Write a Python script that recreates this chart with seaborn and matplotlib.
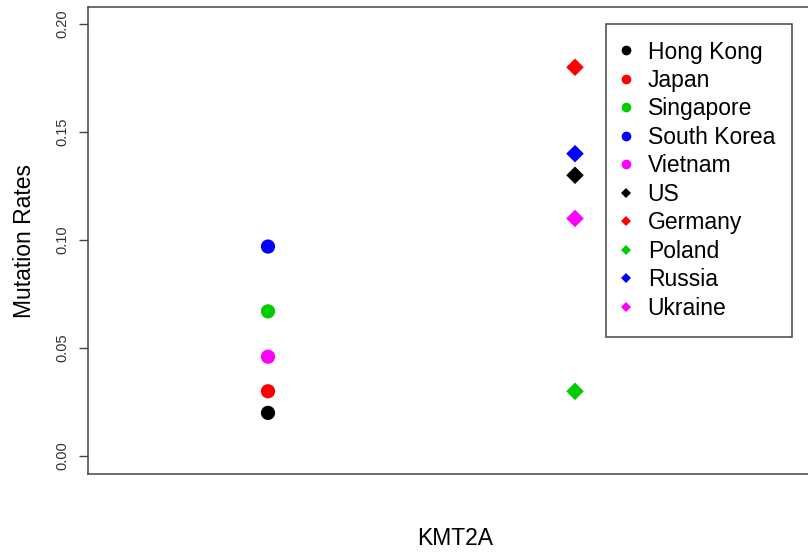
import matplotlib
matplotlib.use("Agg")
import matplotlib.pyplot as plt
from matplotlib.lines import Line2D
import seaborn as sns
import pandas as pd

# Mutation rates of KMT2A by country
asia_countries = ["Hong Kong", "Japan", "Singapore", "South Korea", "Vietnam"]
asia_rates = [0.020, 0.030, 0.067, 0.097, 0.046]
west_countries = ["US", "Germany", "Poland", "Russia", "Ukraine"]
west_rates = [0.130, 0.180, 0.030, 0.140, 0.110]
group_positions = [1, 2]
colours = ["#000000", "#FF0000", "#00CD00", "#0000FF", "#FF00FF"]
y_ticks = [0.00, 0.05, 0.10, 0.15, 0.20]
y_tick_labels = ["0.00", "0.05", "0.10", "0.15", "0.20"]

sns.set_style("white")
plt.rcParams["font.family"] = ["Liberation Sans", "DejaVu Sans"]
plt.rcParams["text.color"] = "black"
plt.rcParams["axes.labelcolor"] = "black"

asia = pd.DataFrame({"country": asia_countries, "rate": asia_rates,
                     "pos": group_positions[0]})
west = pd.DataFrame({"country": west_countries, "rate": west_rates,
                     "pos": group_positions[1]})

W, H = 808, 557
fig = plt.figure(figsize=(W / 100, H / 100), dpi=100)
ax = fig.add_axes([88 / W, 1 - 474 / H, (822 - 88) / W, (474 - 7) / H])

sns.scatterplot(data=asia, x="pos", y="rate", hue="country",
                palette=dict(zip(asia_countries, colours)), marker="o",
                s=105, linewidth=0, legend=False, ax=ax, zorder=3)
sns.scatterplot(data=west, x="pos", y="rate", hue="country",
                palette=dict(zip(west_countries, colours)), marker="D",
                s=80, linewidth=0, legend=False, ax=ax, zorder=3)

ax.set_xlim(1 - 180 / 307, 2 + 247 / 307)
ax.set_ylim(-0.0083, 0.2079)
ax.set_xticks([])
ax.set_yticks(y_ticks)
ax.set_yticklabels(y_tick_labels, rotation=90, va="center", fontsize=10.5,
                   color="#333333")
ax.tick_params(axis="y", direction="out", length=6.5, width=1,
               color="#444444", pad=7, left=True)
for sp in ax.spines.values():
    sp.set_color("#444444")
    sp.set_linewidth(1.1)

ax.set_ylabel("Mutation Rates", fontsize=16.5, labelpad=14)
ax.set_xlabel("KMT2A", fontsize=16.5, labelpad=38)

handles = []
for name, col in zip(asia_countries, colours):
    handles.append(Line2D([], [], linestyle="none", marker="o", markersize=7,
                          markerfacecolor=col, markeredgewidth=0, label=name))
for name, col in zip(west_countries, colours):
    handles.append(Line2D([], [], linestyle="none", marker="D", markersize=5,
                          markerfacecolor=col, markeredgewidth=0, label=name))

leg = fig.legend(handles=handles, loc="upper left",
                 bbox_to_anchor=(606 / W, 1 - 24 / H),
                 bbox_transform=fig.transFigure, borderaxespad=0,
                 fontsize=16.5, frameon=True, fancybox=False, shadow=False,
                 framealpha=1, edgecolor="#444444", labelspacing=0.24,
                 handlelength=0.3, handletextpad=0.8, borderpad=0.72)
leg.get_frame().set_linewidth(1.1)
for t in leg.get_texts():
    t.set_color("black")

fig.savefig("out.png", dpi=100)
